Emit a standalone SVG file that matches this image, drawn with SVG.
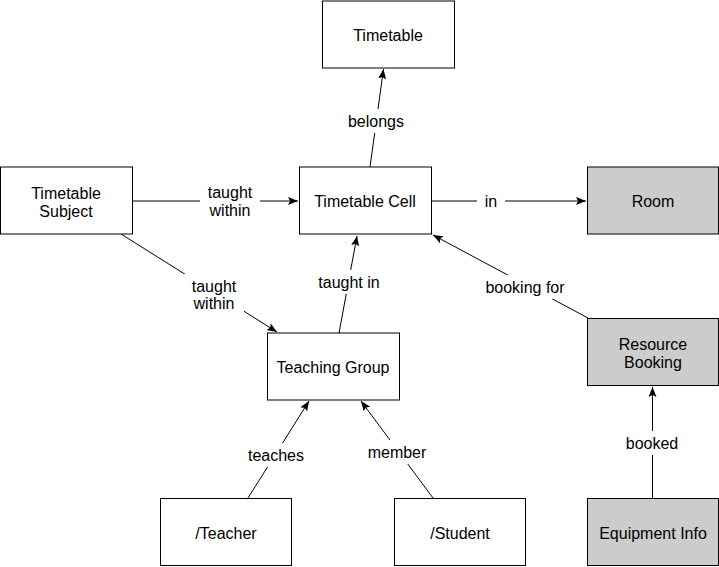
<svg xmlns="http://www.w3.org/2000/svg" width="719" height="567" viewBox="0 0 719 567">
<style>
.n rect{fill:#fff;stroke:#000;stroke-width:1}
.g rect{fill:#cccccc}
text{font-family:"Liberation Sans",Arial,sans-serif;font-size:16px;fill:#000;text-anchor:middle}
.c line{stroke:#000;stroke-width:1;fill:none}
.lb{fill:#fff;stroke:none}
</style>
<defs>
<marker id="a" markerUnits="userSpaceOnUse" markerWidth="12" markerHeight="10" refX="10" refY="4" orient="auto">
<path d="M0,0 L10,4 L0,8 L2,4 z" fill="#000"/>
</marker>
</defs>
<rect width="719" height="567" fill="#fff"/>
<g id="connectors" class="c">
<line x1="370" y1="167" x2="383.5" y2="69" marker-end="url(#a)"/>
<line x1="133" y1="201" x2="298" y2="201" marker-end="url(#a)"/>
<line x1="121" y1="234" x2="277" y2="332" marker-end="url(#a)"/>
<line x1="432" y1="201" x2="586" y2="201" marker-end="url(#a)"/>
<line x1="339" y1="333" x2="357" y2="236" marker-end="url(#a)"/>
<line x1="588" y1="318" x2="433" y2="235" marker-end="url(#a)"/>
<line x1="248" y1="498" x2="309" y2="401" marker-end="url(#a)"/>
<line x1="433" y1="498" x2="361" y2="401" marker-end="url(#a)"/>
<line x1="652.5" y1="498" x2="652.5" y2="387" marker-end="url(#a)"/>
<rect class="lb" x="344" y="109" width="64" height="24"/>
<text x="376" y="127">belongs</text>
<rect class="lb" x="200" y="180" width="60" height="42"/>
<text x="230" y="198">taught</text>
<text x="230" y="216">within</text>
<rect class="lb" x="184" y="274" width="60" height="42"/>
<text x="214" y="292">taught</text>
<text x="214" y="309">within</text>
<rect class="lb" x="477" y="189" width="28" height="24"/>
<text x="491" y="207">in</text>
<rect class="lb" x="312" y="270" width="74" height="24"/>
<text x="349" y="288">taught in</text>
<rect class="lb" x="478" y="275" width="94" height="24"/>
<text x="525" y="293">booking for</text>
<rect class="lb" x="243" y="443" width="66" height="24"/>
<text x="276" y="461">teaches</text>
<rect class="lb" x="361" y="440" width="72" height="24"/>
<text x="397" y="458">member</text>
<rect class="lb" x="621" y="431" width="62" height="24"/>
<text x="652" y="449">booked</text>
</g>
<g id="timetable" class="n"><rect x="322.5" y="1" width="132" height="67"/><text x="388" y="41">Timetable</text></g>
<g id="timetable-subject" class="n"><rect x="0.5" y="167" width="132" height="67"/><text x="66" y="199">Timetable</text><text x="66" y="217">Subject</text></g>
<g id="timetable-cell" class="n"><rect x="299.5" y="167" width="132" height="67"/><text x="365" y="207">Timetable Cell</text></g>
<g id="room" class="n g"><rect x="587.5" y="167" width="131" height="67"/><text x="653" y="207">Room</text></g>
<g id="teaching-group" class="n"><rect x="267.5" y="333" width="132" height="67"/><text x="333" y="373">Teaching Group</text></g>
<g id="resource-booking" class="n g"><rect x="587.5" y="318.5" width="131" height="67"/><text x="653" y="350">Resource</text><text x="653" y="368">Booking</text></g>
<g id="teacher" class="n"><rect x="160.5" y="498.5" width="131" height="67"/><text x="226" y="539">/Teacher</text></g>
<g id="student" class="n"><rect x="394.5" y="498.5" width="131" height="67"/><text x="460" y="539">/Student</text></g>
<g id="equipment-info" class="n g"><rect x="587.5" y="498.5" width="131" height="67"/><text x="653" y="539">Equipment Info</text></g>
</svg>
